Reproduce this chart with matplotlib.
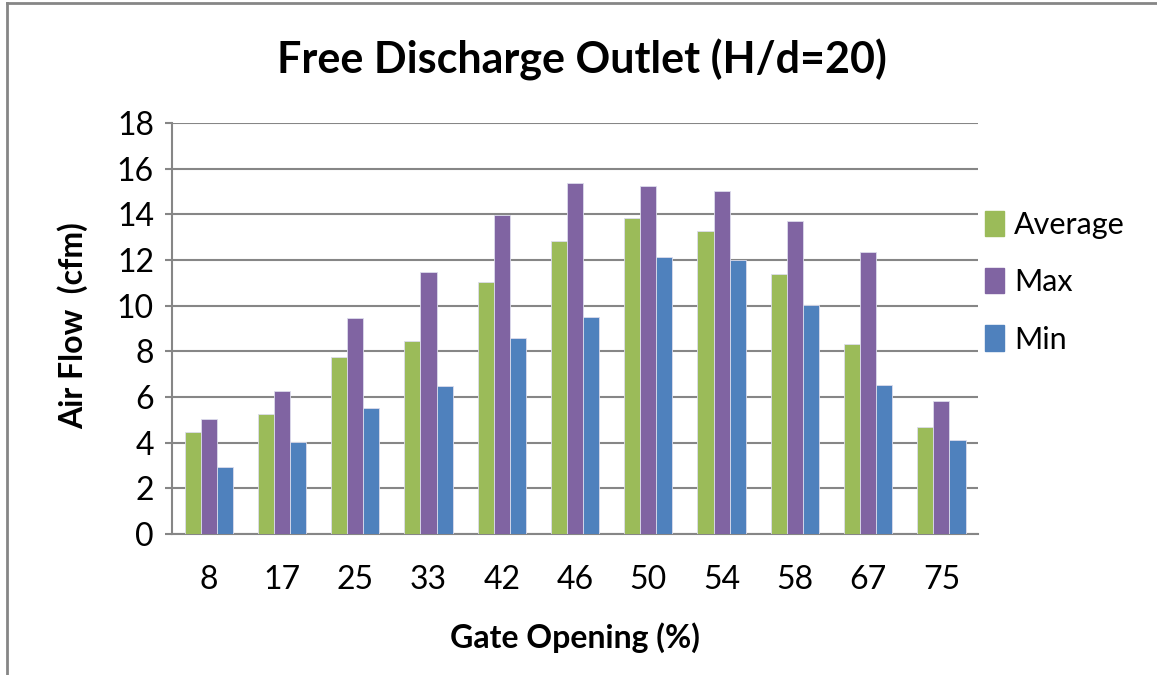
import numpy as np
import matplotlib
matplotlib.use("Agg")
import matplotlib.pyplot as plt
from matplotlib.lines import Line2D
from matplotlib.patches import Patch

plt.rcParams['font.family'] = ['Lato', 'DejaVu Sans']

gate = ['8', '17', '25', '33', '42', '46', '50', '54', '58', '67', '75']
avg_flow = [4.45, 5.25, 7.73, 8.45, 11.05, 12.81, 13.82, 13.29, 11.38, 8.31, 4.68]
max_flow = [5.04, 6.28, 9.45, 11.47, 13.98, 15.36, 15.23, 15.0, 13.72, 12.35, 5.83]
min_flow = [2.93, 4.05, 5.51, 6.47, 8.57, 9.49, 12.11, 12.01, 10.01, 6.52, 4.10]

series = [('Average', avg_flow, '#9BBB59'),
          ('Max', max_flow, '#8064A2'),
          ('Min', min_flow, '#4F81BD')]

fig = plt.figure(figsize=(11.57, 6.75), dpi=100)
ax = fig.add_axes([0.1487, 0.2089, 0.8453 - 0.1487, 0.8178 - 0.2089])

x = np.arange(len(gate))
w = 0.22
for i, (name, vals, col) in enumerate(series):
    ax.bar(x + (i - 1) * w, vals, w, color=col, edgecolor='#dcdcec', linewidth=0.6,
           label=name, zorder=3)

ax.set_xlim(-0.5, len(gate) - 0.5)
ax.set_ylim(0, 18)
ax.set_yticks(range(0, 19, 2))
ax.set_xticks(x)
ax.set_xticklabels(gate)
ax.yaxis.grid(True, color='#868686', linewidth=1.5, zorder=0)
for s in ['top', 'right']:
    ax.spines[s].set_visible(False)
for s in ['left', 'bottom']:
    ax.spines[s].set_color('#868686')
    ax.spines[s].set_linewidth(1.5)
ax.tick_params(axis='y', length=5, width=1.5, color='#868686', labelsize=23, pad=8)
ax.tick_params(axis='x', length=0, labelsize=23, pad=22)

fig.text(0.503, 0.911, 'Free Discharge Outlet (H/d=20)', ha='center', va='center',
         fontsize=31, fontweight='bold')
fig.text(0.497, 0.056, 'Gate Opening (%)', ha='center', va='center',
         fontsize=23, fontweight='bold')
fig.text(0.063, 0.517, 'Air Flow  (cfm)', ha='center', va='center', rotation=90,
         fontsize=23, fontweight='bold')

handles = [Patch(color=c) for _, _, c in series]
fig.legend(handles, [n for n, _, _ in series], loc='center left',
           bbox_to_anchor=(0.851, 0.582), frameon=False, fontsize=22,
           handlelength=0.62, handleheight=0.9, handletextpad=0.35, labelspacing=0.95,
           borderaxespad=0, borderpad=0)

# outer chart frame (top and left visible)
fig.add_artist(Line2D([0.006, 0.006], [0, 0.996], color='#868686', lw=2))
fig.add_artist(Line2D([0.006, 1.0], [0.996, 0.996], color='#868686', lw=2))

fig.savefig('out.png', dpi=100)
